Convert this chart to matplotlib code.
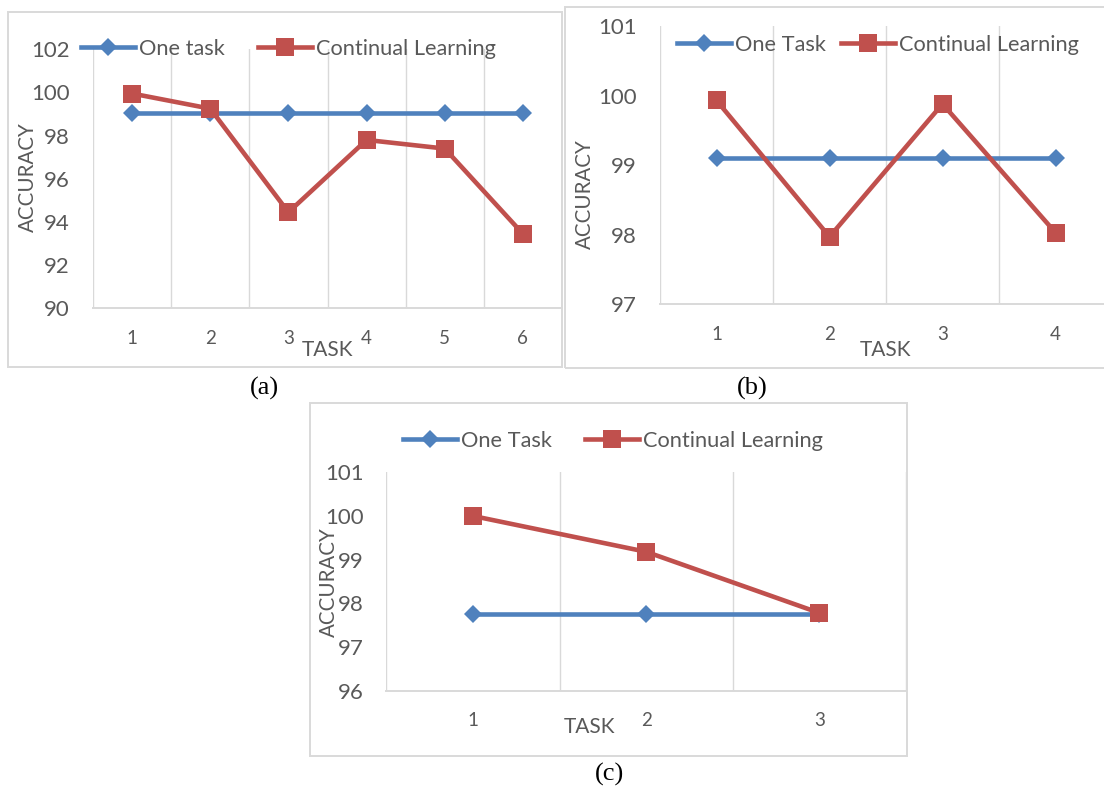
import matplotlib
matplotlib.use("Agg")
import matplotlib.pyplot as plt
import numpy as np
from matplotlib.patches import Rectangle

plt.rcParams['font.family'] = ['Lato', 'DejaVu Sans']

# ---------------- data ----------------
tasks_a = [1, 2, 3, 4, 5, 6]
one_a = [99.05, 99.05, 99.05, 99.05, 99.05, 99.05]
cl_a = [99.95, 99.25, 94.45, 97.8, 97.4, 93.45]
yticks_a = [90, 92, 94, 96, 98, 100, 102]

tasks_b = [1, 2, 3, 4]
one_b = [99.1, 99.1, 99.1, 99.1]
cl_b = [99.93, 97.97, 99.88, 98.03]
yticks_b = [97, 98, 99, 100, 101]

tasks_c = [1, 2, 3]
one_c = [97.75, 97.75, 97.75]
cl_c = [100.0, 99.18, 97.78]
yticks_c = [96, 97, 98, 99, 100, 101]

labels_one = ["One task", "One Task", "One Task"]
label_cl = "Continual Learning"
captions = ["(a)", "(b)", "(c)"]

# ---------------- style ----------------
W, H = 1104, 789
BLUE = "#4F81BD"
RED = "#C0504D"
TXT = "#595959"
GRID = "#D9D9D9"
LEGFS = 15.7

fig = plt.figure(figsize=(W / 100, H / 100), dpi=100)


def fx(x):
    return x / W


def fy(y):
    return 1 - y / H


def add_box(x0, y0, x1, y1):
    fig.patches.append(Rectangle((fx(x0), fy(y1)), fx(x1) - fx(x0), fy(y0) - fy(y1),
                                 transform=fig.transFigure, fill=False,
                                 edgecolor=GRID, linewidth=1.4, zorder=0))


def panel(rect, tasks, one, cl, yticks, lab_one, leg_xy, colsp, acc_xy, task_xy, cap_xy, cap):
    l, t, r, b = rect
    ax = fig.add_axes([fx(l), fy(b), fx(r) - fx(l), fy(t) - fy(b)])
    ax.set_facecolor('none')
    n = len(tasks)
    ax.set_xlim(0.5, n + 0.5)
    ax.set_ylim(yticks[0], yticks[-1])
    ax.set_xticks(tasks)
    ax.set_xticklabels([str(v) for v in tasks])
    ax.set_yticks(yticks)
    ax.set_xticks(np.arange(0.5, n + 1.0, 1.0), minor=True)
    ax.grid(True, which='minor', axis='x', color=GRID, linewidth=1.0)
    ax.tick_params(axis='both', which='both', length=0)
    ax.tick_params(axis='y', labelsize=16, labelcolor=TXT, pad=16.5)
    ax.tick_params(axis='x', labelsize=13.5, labelcolor=TXT, pad=15.5)
    for s in ['top', 'right', 'left']:
        ax.spines[s].set_visible(False)
    ax.spines['bottom'].set_color(GRID)
    ax.spines['bottom'].set_linewidth(1.4)
    h1, = ax.plot(tasks, one, color=BLUE, lw=3.3, marker='D', ms=9.5, mew=0,
                  label=lab_one, zorder=3, clip_on=False)
    h2, = ax.plot(tasks, cl, color=RED, lw=3.3, marker='s', ms=12.5, mew=0,
                  label=label_cl, zorder=4, clip_on=False)
    em = LEGFS * 100 / 72
    fig.legend(handles=[h1, h2], loc='center left',
               bbox_to_anchor=(fx(leg_xy[0]), fy(leg_xy[1])),
               bbox_transform=fig.transFigure, ncol=2, frameon=False,
               fontsize=LEGFS, handlelength=54 / em, handletextpad=4 / em,
               columnspacing=colsp / em, borderpad=0, borderaxespad=0,
               numpoints=1, labelcolor=TXT)
    fig.text(fx(acc_xy[0]), fy(acc_xy[1]), "ACCURACY", rotation=90, ha='center',
             va='center', fontsize=14.8, color=TXT)
    fig.text(fx(task_xy[0]), fy(task_xy[1]), "TASK", ha='center', va='center',
             fontsize=15, color=TXT)
    fig.text(fx(cap_xy[0]), fy(cap_xy[1]), cap, ha='center', va='center',
             fontsize=19, color='black', family='Liberation Serif')
    return ax


add_box(8, 12, 562, 367)
add_box(565, 7, 1112, 368)
add_box(310, 402.5, 907, 756)

panel((93, 49.3, 562, 308.3), tasks_a, one_a, cl_a, yticks_a, labels_one[0],
      (81, 49), 33, (27.5, 177), (328, 349.5), (264, 388), captions[0])
panel((660, 26, 1112, 304.3), tasks_b, one_b, cl_b, yticks_b, labels_one[1],
      (677, 45), 15, (585, 194), (886, 350.5), (752.6, 388), captions[1])
panel((386.4, 472.3, 906, 690.7), tasks_c, one_c, cl_c, yticks_c, labels_one[2],
      (403, 440.7), 33, (328.5, 581.7), (590, 727), (610, 774), captions[2])

fig.savefig("out.png", dpi=100)
